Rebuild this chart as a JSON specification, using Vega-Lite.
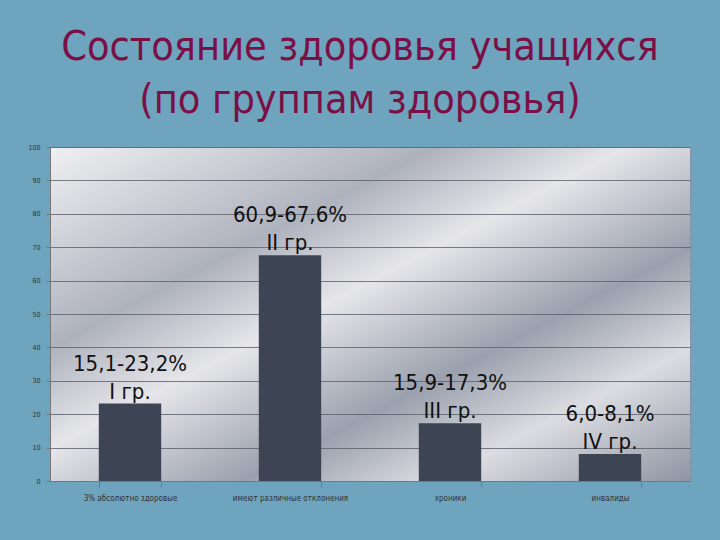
{
  "$schema": "https://vega.github.io/schema/vega-lite/v6.json",
  "autosize": "none",
  "width": 640,
  "height": 334,
  "padding": {"left": 50, "top": 147, "right": 30, "bottom": 59},
  "background": "#6ea4bd",
  "title": {
    "text": ["Состояние здоровья учащихся", "(по группам здоровья)"],
    "font": "DejaVu Sans Condensed, sans-serif",
    "fontSize": 41,
    "fontWeight": "normal",
    "color": "#7a1046",
    "anchor": "middle",
    "lineHeight": 53,
    "offset": 21,
    "dx": -10
  },
  "config": {
    "view": {
      "fill": {"gradient": "linear", "x1": 0, "y1": 0, "x2": 1, "y2": 1,
        "stops": [
          {"offset": 0, "color": "#f0f0f2"},
          {"offset": 0.3, "color": "#aeb2bd"},
          {"offset": 0.45, "color": "#e6e6ea"},
          {"offset": 0.65, "color": "#9aa0ad"},
          {"offset": 0.8, "color": "#dcdde2"},
          {"offset": 1, "color": "#8e94a2"}
        ]},
      "stroke": "#8a94a8"
    },
    "axis": {"labelFont": "DejaVu Sans Condensed", "labelColor": "#333", "domainColor": "#777", "tickColor": "#777"}
  },
  "data": {
    "values": [
      {"category": "3% абсолютно здоровые", "value": 23.2, "label": ["15,1-23,2%", "I гр."]},
      {"category": "имеют различные отклонения", "value": 67.6, "label": ["60,9-67,6%", "II гр."]},
      {"category": "хроники", "value": 17.3, "label": ["15,9-17,3%", "III гр."]},
      {"category": "инвалиды", "value": 8.1, "label": ["6,0-8,1%", "IV гр."]}
    ]
  },
  "encoding": {
    "x": {
      "field": "category", "type": "nominal", "sort": null,
      "scale": {"paddingInner": 0.61, "paddingOuter": 0.305},
      "axis": {"title": null, "labelAngle": 0, "labelFontSize": 8, "labelPadding": 7, "tickBand": "extent", "tickSize": 6, "grid": false}
    },
    "y": {
      "field": "value", "type": "quantitative",
      "scale": {"domain": [0, 100]},
      "axis": {"title": null, "values": [0,10,20,30,40,50,60,70,80,90,100], "labelFontSize": 7, "labelPadding": 6, "gridColor": "#5a5f6a", "gridOpacity": 0.8, "tickSize": 4, "domain": true}
    }
  },
  "layer": [
    {"mark": {"type": "bar", "color": "#3d4555"}},
    {
      "mark": {"type": "text", "baseline": "bottom", "align": "center", "dy": -28, "fontSize": 22, "lineHeight": 28, "font": "DejaVu Sans Condensed, sans-serif", "color": "#111"},
      "encoding": {"text": {"field": "label"}}
    }
  ]
}
